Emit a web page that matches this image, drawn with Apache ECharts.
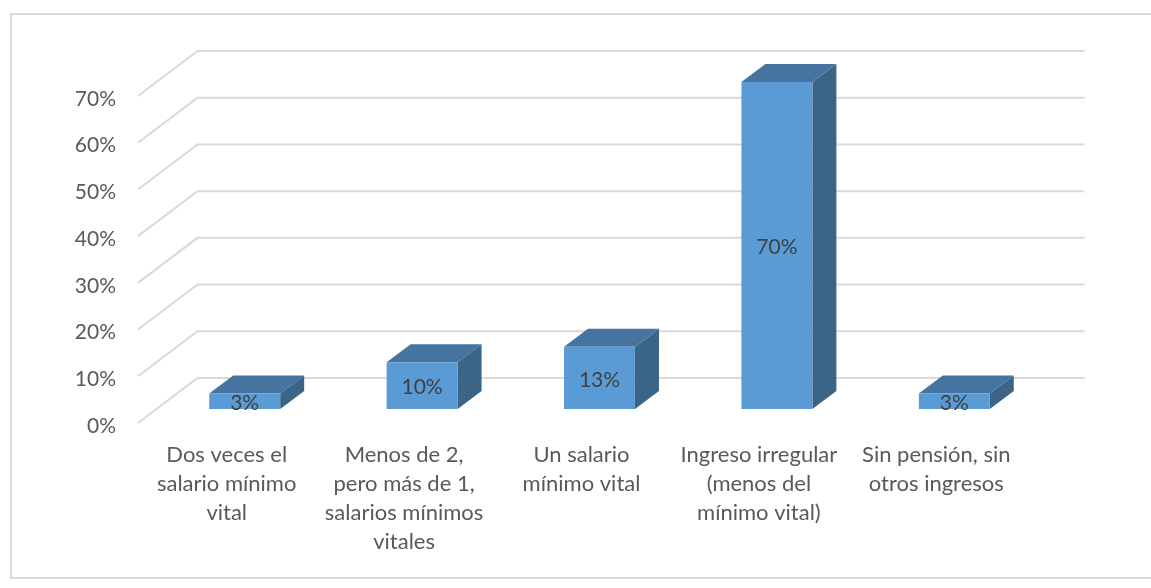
<!DOCTYPE html>
<html>
<head>
<meta charset="utf-8">
<title>Ingresos</title>
<script src="https://cdn.jsdelivr.net/npm/echarts@6/dist/echarts.min.js"></script>
<style>
  html, body { margin: 0; padding: 0; background: #fff; }
  #chart { width: 1151px; height: 588px; }
</style>
</head>
<body>
<div id="chart"></div>
<script>
var categories = [
  "Dos veces el\nsalario mínimo\nvital",
  "Menos de 2,\npero más de 1,\nsalarios mínimos\nvitales",
  "Un salario\nmínimo vital",
  "Ingreso irregular\n(menos del\nmínimo vital)",
  "Sin pensión, sin\notros ingresos"
];
var values = [3.33, 10, 13.33, 70, 3.33];
var gridTicks = [0, 10, 20, 30, 40, 50, 60, 70];

var font = "Lato";
var wallDx = 59.5, wallDy = 45;   // profundidad de las paredes
var barShiftX = 18, barShiftY = 14; // la barra va un poco detras del plano frontal
var barDx = 24, barDy = 18;     // profundidad de la barra

var myChart = echarts.init(document.getElementById("chart"));

function renderWall(params, api) {
  var cs = params.coordSys;
  var y = api.coord([0, api.value(1)])[1];
  return {
    type: "polyline",
    shape: {
      points: [
        [cs.x, y],
        [cs.x + wallDx, y - wallDy],
        [cs.x + cs.width + wallDx, y - wallDy]
      ]
    },
    style: { fill: null, stroke: "#d9d9d9", lineWidth: 2 }
  };
}

function renderBar(params, api) {
  var top = api.coord([api.value(0), api.value(1)]);
  var base = api.coord([api.value(0), 0]);
  var w = api.size([1, 0])[0] * 0.4;
  var x0 = top[0] + barShiftX - w / 2;
  var x1 = x0 + w;
  var yt = top[1] - barShiftY;
  var yb = base[1] - barShiftY;
  return {
    type: "group",
    children: [
      {
        type: "polygon",
        shape: { points: [[x1, yt], [x1 + barDx, yt - barDy], [x1 + barDx, yb - barDy], [x1, yb]] },
        style: { fill: "#3a6587" }
      },
      {
        type: "polygon",
        shape: { points: [[x0, yt], [x0 + barDx, yt - barDy], [x1 + barDx, yt - barDy], [x1, yt]] },
        style: { fill: "#44749f" }
      },
      {
        type: "rect",
        shape: { x: x0, y: yt, width: w, height: yb - yt },
        style: { fill: "#5b9bd5" }
      },
      {
        type: "text",
        style: {
          text: Math.round(api.value(1)) + "%",
          x: (x0 + x1) / 2,
          y: (yt + yb) / 2 + 2,
          align: "center",
          verticalAlign: "middle",
          fill: "#404040",
          fontFamily: font,
          fontSize: 21
        }
      }
    ]
  };
}

var option = {
  backgroundColor: "#fff",
  animation: false,
  grid: { left: 138, right: 126, top: 96, bottom: 165 },
  graphic: [
    {
      type: "polyline",
      silent: true,
      shape: { points: [[1151, 14], [11, 14], [11, 578], [1151, 578]] },
      style: { fill: null, stroke: "#d9d9d9", lineWidth: 2 }
    }
  ],
  xAxis: {
    type: "category",
    data: categories,
    axisLine: { show: false },
    axisTick: { show: false },
    axisLabel: {
      interval: 0,
      margin: 17,
      color: "#595959",
      fontFamily: font,
      fontSize: 22,
      lineHeight: 29
    }
  },
  yAxis: {
    type: "value",
    min: 0,
    max: 70,
    interval: 10,
    axisLine: { show: false },
    axisTick: { show: false },
    splitLine: { show: false },
    axisLabel: {
      formatter: "{t|{value}%}",
      margin: 22,
      rich: {
        t: {
          padding: [6, 0, 0, 0],
          color: "#595959",
          fontFamily: font,
          fontSize: 21
        }
      }
    }
  },
  series: [
    {
      type: "custom",
      renderItem: renderWall,
      silent: true,
      z: 1,
      data: gridTicks.map(function (v) { return [0, v]; })
    },
    {
      type: "custom",
      renderItem: renderBar,
      z: 2,
      data: values.map(function (v, i) { return [i, v]; })
    }
  ]
};
myChart.setOption(option);
</script>
</body>
</html>
